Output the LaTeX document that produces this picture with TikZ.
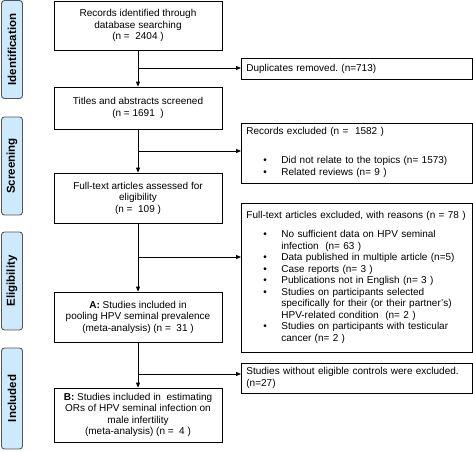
\documentclass[tikz,border=0pt]{standalone}
\usepackage{fontspec}
\setmainfont{Liberation Sans}
\usetikzlibrary{arrows.meta}
\definecolor{barblue}{RGB}{206,233,251}
\definecolor{bargray}{RGB}{85,85,85}
\frenchspacing
\newenvironment{bullist}{\begin{tabular}{@{\hspace{17pt}}p{18pt}@{}l@{}}}{\end{tabular}}
\tikzset{
	mainbox/.style={draw,line width=0.8pt,minimum width=168pt,align=center,inner ysep=0pt,font=\fontsize{10}{11.5}\selectfont},
	exbox/.style={draw,line width=0.8pt,anchor=west,minimum width=231pt,text width=221pt,inner xsep=5pt,inner ysep=0pt,align=left,font=\fontsize{10}{11.5}\selectfont},
	phase/.style={draw=bargray,fill=barblue,rounded corners=3pt,line width=0.9pt,rotate=90,minimum height=21pt,inner sep=0pt,font=\fontsize{11.5}{12}\selectfont\bfseries},
	arr/.style={line width=0.8pt,-{Triangle[length=5pt,width=4pt]}}
}
\begin{document}
\begin{tikzpicture}[x=1pt,y=-1pt]
	\useasboundingbox (0,0) rectangle (473,451);
	% phases
	\node[phase,minimum width=98pt] (ident) at (12,49.5) {Identification};
	\node[phase,minimum width=98pt] (screen) at (12,166) {Screening};
	\node[phase,minimum width=98pt] (elig) at (12,281) {Eligibility};
	\node[phase,minimum width=101pt] (incl) at (12,398.5) {Included};
	% main column
	\node[mainbox,minimum height=49pt] (rec) at (138,25.5) {Records identified through\\ database searching\\ (n =\ \ 2404 )};
	\node[mainbox,minimum height=42pt] (titles) at (138,108) {Titles and abstracts screened\\ (n = 1691\ \ )};
	\node[mainbox,minimum height=50pt] (full) at (138,198) {Full-text articles assessed for\\ eligibility\\ (n =\ \ 109 )};
	\node[mainbox,minimum height=50pt] (incA) at (138,317) {\textbf{A:} Studies included in\\ pooling HPV seminal prevalence\\ (meta-analysis) (n =\ \ 31 )};
	\node[mainbox,minimum height=54pt] (incB) at (138,415) {\textbf{B:} Studies included in\ \ estimating\\ ORs of HPV seminal infection on\\ male infertility\\ (meta-analysis) (n =\ \ 4 )};
	% excluded
	\node[exbox,minimum height=21pt] (dup) at (241,68.5) {Duplicates removed. (n=713)};
	\node[exbox,minimum height=60pt] (recex) at (241,153) {Records excluded (n =\ \ 1582 )\\[18pt]
		\begin{bullist}
			\textbullet & Did not relate to the topics (n= 1573)\\
			\textbullet & Related reviews (n= 9 )
		\end{bullist}};
	\node[exbox,minimum height=149pt] (fullex) at (241,278) {Full-text articles excluded, with reasons (n = 78 )\\[8pt]
		\begin{bullist}
			\textbullet & No sufficient data on HPV seminal\\
			& infection\ \ (n= 63 )\\
			\textbullet & Data published in multiple article (n=5)\\
			\textbullet & Case reports (n= 3 )\\
			\textbullet & Publications not in English (n= 3 )\\
			\textbullet & Studies on participants selected\\
			& specifically for their (or their partner's)\\
			& HPV-related condition\ \ (n= 2 )\\
			\textbullet & Studies on participants with testicular\\
			& cancer (n= 2 )
		\end{bullist}};
	\node[exbox,minimum height=30pt] (noctrl) at (241,378) {Studies without eligible controls were excluded.\\ (n=27)};
	% branch points
	\coordinate (b1) at (138,68);
	\coordinate (b2) at (138,151);
	\coordinate (b3) at (138,257);
	\coordinate (b4) at (138,374);
	\draw[arr] (rec.south) -- (titles.north);
	\draw[arr] (titles.south) -- (full.north);
	\draw[arr] (full.south) -- (incA.north);
	\draw[arr] (incA.south) -- (incB.north);
	\draw[arr] (b1) -- (b1 -| dup.west);
	\draw[arr] (b2) -- (b2 -| recex.west);
	\draw[arr] (b3) -- (b3 -| fullex.west);
	\draw[arr] (b4) -- (b4 -| noctrl.west);
\end{tikzpicture}
\end{document}
